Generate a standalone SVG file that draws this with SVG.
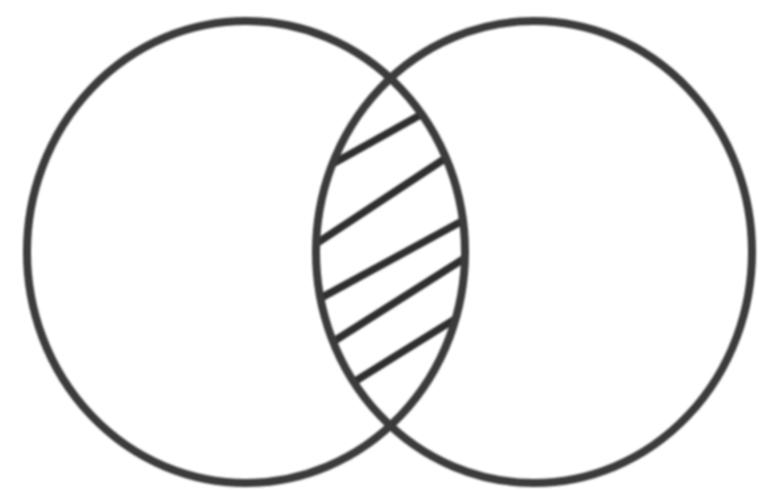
<svg xmlns="http://www.w3.org/2000/svg" width="758" height="491" viewBox="0 0 758 491">
  <style>
    .ring { fill: none; stroke: #3a3a3a; stroke-width: 8; }
    .hatch { fill: none; stroke: #2e2e2e; stroke-width: 7.5; stroke-linecap: butt; }
  </style>
  <defs>
    <filter id="soft" x="-5%" y="-5%" width="110%" height="110%">
      <feGaussianBlur stdDeviation="1.2"/>
    </filter>
    <clipPath id="clipLeft">
      <ellipse cx="246" cy="252" rx="219" ry="231"/>
    </clipPath>
    <clipPath id="clipRight">
      <ellipse cx="534" cy="252" rx="218" ry="231"/>
    </clipPath>
  </defs>
  <rect x="0" y="0" width="758" height="491" fill="#ffffff"/>
  <g filter="url(#soft)">
    <g id="hatching" clip-path="url(#clipLeft)">
      <g clip-path="url(#clipRight)">
        <line class="hatch" x1="318" y1="172" x2="431" y2="109"/>
        <line class="hatch" x1="308" y1="249" x2="458" y2="150"/>
        <line class="hatch" x1="308" y1="305" x2="475" y2="214"/>
        <line class="hatch" x1="320" y1="350" x2="476" y2="251"/>
        <line class="hatch" x1="341" y1="390" x2="468" y2="311"/>
      </g>
    </g>
    <g id="setA">
      <ellipse class="ring" cx="246" cy="252" rx="219" ry="231"/>
    </g>
    <g id="setB">
      <ellipse class="ring" cx="534" cy="252" rx="218" ry="231"/>
    </g>
  </g>
</svg>
